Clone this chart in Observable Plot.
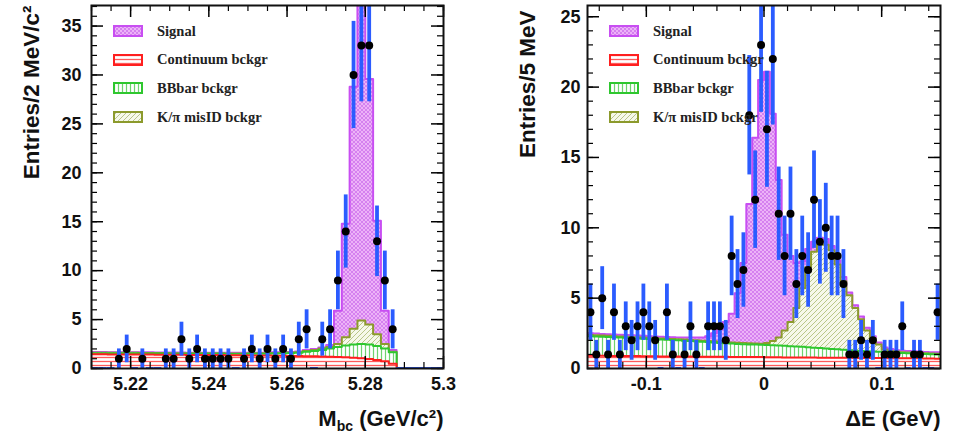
<!DOCTYPE html>
<html><head><meta charset="utf-8">
<script src="https://cdn.jsdelivr.net/npm/d3@7"></script>
<script src="https://cdn.jsdelivr.net/npm/@observablehq/plot@0.6"></script>
<style>
html,body{margin:0;padding:0;background:#fff;}
#wrap{display:flex;width:954px;height:433px;}
.panel{position:relative;width:477px;height:433px;}
.legend{position:absolute;font-family:"Liberation Serif","Times New Roman",serif;font-weight:bold;font-size:14.5px;color:#222;}
.legend .row{position:absolute;left:0;height:14px;display:flex;align-items:center;white-space:nowrap;}
.legend .row svg{margin-right:14px;flex:none;}
</style></head><body>
<svg width="0" height="0" style="position:absolute">
<defs>
<pattern id="pSig" width="4" height="4" patternUnits="userSpaceOnUse">
 <rect width="4" height="4" fill="#edb2f8"/>
 <path d="M0,0L4,4M4,0L0,4" stroke="#d27cee" stroke-width="0.9"/>
</pattern>
<pattern id="pCont" width="4" height="4" patternUnits="userSpaceOnUse">
 <rect width="4" height="4" fill="#ffffff"/>
 <path d="M0,1.5H4" stroke="#ff5a5a" stroke-width="1.3"/>
</pattern>
<pattern id="pBB" width="4" height="4" patternUnits="userSpaceOnUse">
 <rect width="4" height="4" fill="#ffffff"/>
 <path d="M1.5,0V4" stroke="#6fd36f" stroke-width="1.2"/>
</pattern>
<pattern id="pMis" width="5" height="5" patternUnits="userSpaceOnUse">
 <rect width="5" height="5" fill="#f6f8ea"/>
 <path d="M0,5L5,0M-1,1L1,-1M4,6L6,4" stroke="#b9c68a" stroke-width="1"/>
</pattern>
</defs></svg>
<div id="wrap"><div class="panel" id="p1"></div><div class="panel" id="p2"></div></div>
<script>
// ---------- Left panel: M_bc, 2 MeV bins from 5.21 ----------
const mbcLo = 5.21, mbcBinWidth = 0.002;
const mbcCounts = [0,0,0,1,2,0,1,0,0,1, 1,3,1,2,1,1,1,1,0,1, 2,1,2,1,2,1,3,4,0,3, 4,9,14,30,33,33,13,9,4,0, 0,0,0,0,0];
const mbcContTop = [1.45,1.45,1.44,1.44,1.43,1.43,1.42,1.42,1.41,1.41, 1.40,1.40,1.39,1.39,1.38,1.37,1.37,1.36,1.35,1.35, 1.34,1.33,1.32,1.31,1.30,1.29,1.27,1.26,1.24,1.22, 1.20,1.17,1.14,1.10,1.05,0.98,0.88,0.73,0.48,0, 0,0,0,0,0];
const mbcBBTop = [1.57,1.57,1.56,1.56,1.55,1.55,1.54,1.54,1.53,1.53, 1.52,1.52,1.51,1.51,1.50,1.50,1.50,1.49,1.49,1.49, 1.50,1.51,1.52,1.54,1.56,1.58,1.62,1.70,1.80,1.90, 2.05,2.20,2.35,2.45,2.50,2.45,2.30,2.05,1.65,0, 0,0,0,0,0];
const mbcMisIDTop = [1.62,1.62,1.61,1.61,1.60,1.60,1.59,1.59,1.58,1.58, 1.57,1.57,1.56,1.56,1.55,1.55,1.55,1.54,1.54,1.54, 1.55,1.56,1.57,1.59,1.61,1.63,1.67,1.78,1.90,2.05, 2.20,2.50,3.20,4.05,4.90,4.50,3.50,2.50,1.72,0, 0,0,0,0,0];
const mbcTotal = [1.68,1.68,1.67,1.67,1.66,1.66,1.65,1.65,1.64,1.64, 1.63,1.63,1.62,1.62,1.61,1.61,1.61,1.60,1.60,1.60, 1.61,1.62,1.63,1.65,1.67,1.69,1.74,1.90,2.00,2.15, 2.40,5.90,14.8,28.8,38.5,29.6,15.1,5.90,1.90,0, 0,0,0,0,0];
const mbcXTicks = [5.22,5.24,5.26,5.28,5.3];
const mbcYTicks = [0,5,10,15,20,25,30,35];

// ---------- Right panel: Delta E, 5 MeV bins from -0.15 ----------
const deLo = -0.15, deBinWidth = 0.005;
const deCounts = [4,1,5,1,4,1,3,2,3,4, 3,2,0,4,1,0,1,3,1,0, 3,3,3,2,8,6,7,18,12,23, 17,22,11,8,11,6,8,7,12,9, 10,8,8,6,1,1,2,1,2,0, 1,1,1,3,0,1,1,0,0,4];
const deContTop = [0.90,0.90,0.90,0.89,0.89,0.89,0.88,0.88,0.88,0.87, 0.87,0.87,0.86,0.86,0.86,0.85,0.85,0.85,0.84,0.84, 0.84,0.83,0.83,0.83,0.82,0.82,0.82,0.81,0.81,0.81, 0.80,0.80,0.80,0.79,0.79,0.79,0.78,0.78,0.78,0.77, 0.77,0.77,0.76,0.76,0.76,0.75,0.75,0.75,0.74,0.74, 0.74,0.73,0.73,0.73,0.72,0.72,0.72,0.71,0.71,0.70];
const deBBTop = [2.30,2.28,2.26,2.24,2.22,2.20,2.18,2.16,2.14,2.12, 2.10,2.08,2.06,2.04,2.02,2.00,1.98,1.95,1.93,1.90, 1.88,1.85,1.82,1.79,1.77,1.75,1.73,1.71,1.70,1.68, 1.67,1.65,1.63,1.61,1.59,1.57,1.54,1.51,1.48,1.45, 1.42,1.39,1.36,1.33,1.30,1.27,1.25,1.23,1.21,1.19, 1.17,1.15,1.13,1.11,1.09,1.07,1.05,1.03,1.01,1.00];
const deMisIDTop = [2.38,2.36,2.34,2.32,2.30,2.28,2.26,2.24,2.22,2.20, 2.18,2.16,2.14,2.12,2.10,2.08,2.06,2.03,2.01,1.98, 1.96,1.93,1.90,1.87,1.85,1.83,1.81,1.79,1.78,1.76, 1.82,1.95,2.20,2.70,3.30,4.30,5.70,7.20,8.30,8.80, 8.80,8.40,7.40,6.20,5.20,4.30,3.50,2.70,2.15,1.70, 1.35,1.25,1.20,1.16,1.14,1.12,1.10,1.08,1.06,1.05];
const deTotal = [2.50,2.48,2.46,2.44,2.42,2.40,2.38,2.36,2.34,2.32, 2.30,2.28,2.26,2.24,2.22,2.20,2.20,2.20,2.20,2.20, 2.30,2.50,2.80,3.30,3.90,5.35,7.50,11.7,16.4,20.5, 21.1,18.1,13.4,9.50,8.00,7.50,7.60,8.50,9.00,9.30, 9.20,8.70,7.70,6.50,5.40,4.50,3.70,2.90,2.30,1.85, 1.50,1.38,1.30,1.26,1.24,1.22,1.20,1.18,1.16,1.15];
const deXTicks = [-0.1,0,0.1];
const deYTicks = [0,5,10,15,20,25];

const legendLabels = ["Signal","Continuum bckgr","BBbar bckgr","K/\u03c0 misID bckgr"];
const legendPatterns = ["pSig","pCont","pBB","pMis"];

const VIOLET = "#c84ef2", RED = "#ff1f1f", GREEN = "#2fc72f", OLIVE = "#8c9a2c", BLUE = "#2b5cff";
const FONT = "'Liberation Sans', Arial, Helvetica, sans-serif";

function stepData(lo, w, vals) {
  const pts = vals.map((v, i) => ({x: lo + i * w, y: v}));
  pts.push({x: lo + vals.length * w, y: vals[vals.length - 1]});
  return pts;
}

function panel(o) {
  const W = 477, H = 433, mT = 5, mB = 65;
  const ph = H - mT - mB, pw = W - o.mL - o.mR;
  const pts = o.counts.map((n, i) => ({x: o.lo + (i + 0.5) * o.w, n}));
  const nz = pts.filter(d => d.n > 0), zr = pts.filter(d => d.n === 0);
  const layers = [[o.total, "pSig", VIOLET], [o.mis, "pMis", OLIVE], [o.bb, "pBB", GREEN], [o.cont, "pCont", RED]];
  const marks = [];
  for (const [vals, pat, col] of layers) {
    const sd = stepData(o.lo, o.w, vals);
    marks.push(Plot.areaY(sd, {x: "x", y: "y", curve: "step-after", fill: `url(#${pat})`, clip: true}));
    marks.push(Plot.lineY(sd, {x: "x", y: "y", curve: "step-after", stroke: col, strokeWidth: 2, clip: true}));
  }
  marks.push(Plot.ruleY(zr, {y: 0, x1: d => d.x - o.w / 2, x2: d => d.x + o.w / 2, stroke: BLUE, strokeWidth: 3, clip: true}));
  marks.push(Plot.ruleX(nz, {x: "x", y1: d => d.n - Math.sqrt(d.n), y2: d => d.n + Math.sqrt(d.n), stroke: BLUE, strokeWidth: 3.8, clip: true}));
  marks.push(Plot.dot(nz, {x: "x", y: "n", r: 4, fill: "black", stroke: "none", clip: true}));
  const tk = (vals, len, sw) => [
    Plot.tickX(vals, {x: d => d, stroke: "black", strokeWidth: sw, insetTop: ph - len}),
    Plot.tickX(vals, {x: d => d, stroke: "black", strokeWidth: sw, insetBottom: ph - len}),
  ];
  const tky = (vals, len, sw) => [
    Plot.tickY(vals, {y: d => d, stroke: "black", strokeWidth: sw, insetRight: pw - len}),
    Plot.tickY(vals, {y: d => d, stroke: "black", strokeWidth: sw, insetLeft: pw - len}),
  ];
  marks.push(...tk(o.xMinor, 6, 1.2), ...tk(o.xTicks, 12, 1.5), ...tky(o.yMinor, 6, 1.2), ...tky(o.yTicks, 12, 1.5));
  marks.push(Plot.frame({stroke: "#111", strokeWidth: 2}));
  marks.push(Plot.axisX(o.xTicks, {tickSize: 0, tickPadding: 9, fontSize: 18, fontWeight: "bold", tickFormat: d => String(d), label: null}));
  marks.push(Plot.axisY(o.yTicks, {tickSize: 0, tickPadding: o.yPad, fontSize: 18, fontWeight: "bold", tickFormat: d => String(d), label: null}));
  marks.push(Plot.text([o.yTitle], {text: d => d, frameAnchor: "top-left", rotate: -90, textAnchor: "end", lineAnchor: "middle", dx: o.yTitleDx, dy: o.yTitleDy, fontSize: 22.5, fontWeight: "bold", fill: "#111"}));
  marks.push(Plot.text([o.xTitle], {text: d => d, frameAnchor: "bottom-right", textAnchor: "end", lineAnchor: "middle", dx: 0, dy: 50, fontSize: 22, fontWeight: "bold", fill: "#111"}));
  const svg = Plot.plot({
    width: W, height: H, marginTop: mT, marginBottom: mB, marginLeft: o.mL, marginRight: o.mR,
    x: {type: "linear", domain: o.xDomain}, y: {type: "linear", domain: o.yDomain},
    style: {fontFamily: FONT, color: "#111", background: "white", overflow: "visible"},
    marks
  });
  svg.querySelectorAll("text").forEach(t => {
    if (t.textContent === o.xTitle && o.sub) {
      t.textContent = "";
      const ns = "http://www.w3.org/2000/svg";
      const a = document.createElementNS(ns, "tspan"); a.textContent = o.sub[0];
      const b = document.createElementNS(ns, "tspan"); b.textContent = o.sub[1]; b.setAttribute("font-size", "14"); b.setAttribute("dy", "5");
      const c = document.createElementNS(ns, "tspan"); c.textContent = o.sub[2]; c.setAttribute("dy", "-5");
      t.append(a, b, c);
    }
  });
  return svg;
}

function legend(host, left) {
  const box = document.createElement("div");
  box.className = "legend";
  box.style.left = left + "px"; box.style.top = "0px";
  const cols = [VIOLET, RED, GREEN, OLIVE];
  legendLabels.forEach((lab, i) => {
    const row = document.createElement("div");
    row.className = "row";
    row.style.top = (24 + i * 28.7) + "px";
    row.innerHTML = `<svg width="30" height="12"><rect x="1" y="1" width="28" height="10" fill="url(#${legendPatterns[i]})" stroke="${cols[i]}" stroke-width="2"/></svg><span>${lab}</span>`;
    box.appendChild(row);
  });
  host.appendChild(box);
}

const p1 = document.getElementById("p1"), p2 = document.getElementById("p2");
p1.appendChild(panel({
  lo: mbcLo, w: mbcBinWidth, counts: mbcCounts, total: mbcTotal, mis: mbcMisIDTop, bb: mbcBBTop, cont: mbcContTop,
  xDomain: [5.21, 5.30], yDomain: [0, 37.1], mL: 91, mR: 34,
  xTicks: mbcXTicks, xMinor: d3.range(5.21, 5.3001, 0.005), yTicks: mbcYTicks, yMinor: d3.range(0, 38, 1), yPad: 10,
  yTitle: "Entries/2 MeV/c\u00b2", yTitleDx: -60, yTitleDy: 0,
  xTitle: "Mbc (GeV/c\u00b2)", sub: ["M", "bc", " (GeV/c\u00b2)"]
}));
legend(p1, 113);
p2.appendChild(panel({
  lo: deLo, w: deBinWidth, counts: deCounts, total: deTotal, mis: deMisIDTop, bb: deBBTop, cont: deContTop,
  xDomain: [-0.15, 0.15], yDomain: [0, 25.8], mL: 110, mR: 14,
  xTicks: deXTicks, xMinor: d3.range(-0.14, 0.1401, 0.02), yTicks: deYTicks, yMinor: d3.range(0, 26, 1), yPad: 7,
  yTitle: "Entries/5 MeV", yTitleDx: -60, yTitleDy: 5,
  xTitle: "\u0394E (GeV)", sub: null
}));
legend(p2, 132);
</script>
</body></html>
